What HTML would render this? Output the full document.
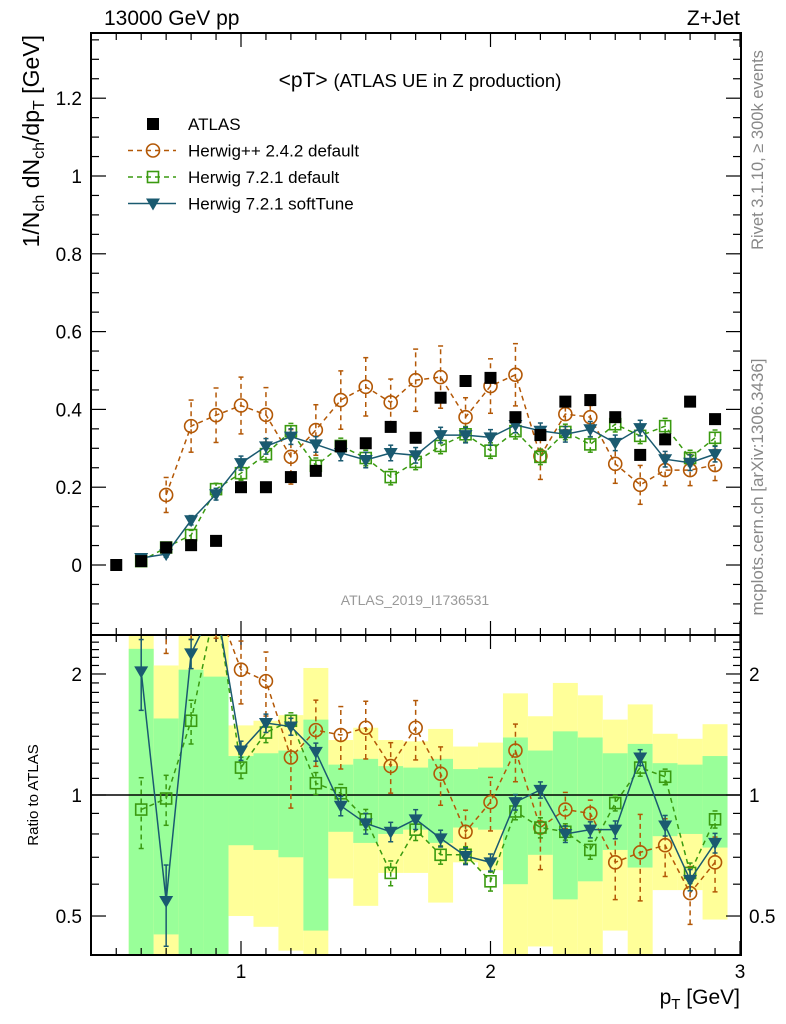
<!DOCTYPE html>
<html><head><meta charset="utf-8"><style>
html,body{margin:0;padding:0;background:#fff;}
svg{display:block;font-family:"Liberation Sans",Arial,sans-serif;}
</style></head><body>
<svg id="chart" width="786" height="1024" viewBox="0 0 786 1024" xmlns="http://www.w3.org/2000/svg"></svg>
<script>
const pT = [0.5,0.6,0.7,0.8,0.9,1.0,1.1,1.2,1.3,1.4,1.5,1.6,1.7,1.8,1.9,2.0,2.1,2.2,2.3,2.4,2.5,2.6,2.7,2.8,2.9];
const atlasVals = [0.0,0.01,0.045,0.051,0.062,0.2,0.2,0.226,0.242,0.305,0.313,0.355,0.327,0.43,0.473,0.481,0.38,0.334,0.42,0.424,0.38,0.283,0.323,0.42,0.375];
const hppPT = [0.7,0.8,0.9,1.0,1.1,1.2,1.3,1.4,1.5,1.6,1.7,1.8,1.9,2.0,2.1,2.2,2.3,2.4,2.5,2.6,2.7,2.8,2.9];
const hppVals = [0.18,0.357,0.385,0.41,0.386,0.278,0.347,0.424,0.458,0.418,0.475,0.483,0.38,0.46,0.489,0.28,0.388,0.38,0.26,0.206,0.244,0.244,0.257];
const hppErr = [0.045,0.067,0.07,0.073,0.07,0.07,0.065,0.075,0.075,0.06,0.08,0.08,0.05,0.07,0.08,0.06,0.04,0.03,0.05,0.05,0.04,0.04,0.04];
const h7PT = [0.6,0.7,0.8,0.9,1.0,1.1,1.2,1.3,1.4,1.5,1.6,1.7,1.8,1.9,2.0,2.1,2.2,2.3,2.4,2.5,2.6,2.7,2.8,2.9];
const h7Vals = [0.01,0.045,0.077,0.195,0.236,0.285,0.344,0.255,0.306,0.275,0.226,0.265,0.306,0.336,0.294,0.344,0.278,0.342,0.31,0.362,0.332,0.357,0.275,0.327];
const h7Err = [0.005,0.008,0.012,0.015,0.018,0.02,0.02,0.02,0.02,0.02,0.02,0.02,0.02,0.02,0.02,0.02,0.02,0.02,0.02,0.02,0.02,0.02,0.02,0.02];
const softVals = [0.018,0.028,0.115,0.182,0.262,0.305,0.33,0.31,0.288,0.27,0.288,0.282,0.334,0.334,0.328,0.36,0.345,0.336,0.349,0.314,0.352,0.272,0.263,0.285];
const softErr = [0.005,0.008,0.012,0.015,0.018,0.02,0.02,0.02,0.02,0.02,0.02,0.02,0.02,0.02,0.02,0.02,0.02,0.02,0.02,0.02,0.02,0.02,0.02,0.02];
// ratio panel
const hppRatio = [3,3,3,2.05,1.92,1.24,1.45,1.41,1.47,1.18,1.47,1.13,0.81,0.96,1.29,0.83,0.92,0.9,0.68,0.72,0.75,0.57,0.68];
const h7Ratio = [0.92,0.98,1.53,3,1.17,1.43,1.53,1.07,1.01,0.87,0.64,0.82,0.71,0.71,0.61,0.91,0.83,0.81,0.73,0.955,1.17,1.11,0.64,0.87];
const softRatio = [2.03,0.545,2.25,3,1.29,1.51,1.48,1.28,0.94,0.85,0.81,0.87,0.78,0.705,0.68,0.96,1.03,0.8,0.82,0.82,1.24,0.84,0.615,0.76];
const bandPT = [0.6,0.7,0.8,0.9,1.0,1.1,1.2,1.3,1.4,1.5,1.6,1.7,1.8,1.9,2.0,2.1,2.2,2.3,2.4,2.5,2.6,2.7,2.8,2.9];
const greenHi = [2.31,1.55,2.05,1.97,1.25,1.27,1.29,1.54,1.19,1.23,1.18,1.17,1.23,1.16,1.17,1.39,1.29,1.44,1.39,1.27,1.34,1.2,1.19,1.25];
const greenLo = [0.3,0.45,0.3,0.3,0.75,0.73,0.7,0.46,0.81,0.76,0.8,0.82,0.76,0.83,0.82,0.6,0.71,0.55,0.61,0.73,0.66,0.79,0.8,0.74];
const yellowHi = [3,2.1,3,3,1.49,1.53,1.58,2.07,1.37,1.47,1.37,1.36,1.46,1.32,1.35,1.79,1.57,1.9,1.77,1.54,1.68,1.42,1.38,1.5];
const yellowLo = [0.3,0.3,0.3,0.3,0.5,0.47,0.41,0.3,0.62,0.53,0.64,0.64,0.54,0.68,0.65,0.3,0.42,0.3,0.3,0.46,0.3,0.58,0.58,0.49];
const xTicks = [1,2,3];
const yTicks = [0,0.2,0.4,0.6,0.8,1,1.2];
const rTicks = [0.5,1,2];

const NS="http://www.w3.org/2000/svg";
const svg=document.getElementById('chart');
const L=91,R=741,T=33,MB=635,RB=955;
const X=p=>241+249.5*(p-1);
const Y=v=>565-389*v;
const RY=r=>795-402*Math.log10(r);
function el(tag,attrs,parent){const e=document.createElementNS(NS,tag);for(const k in attrs)e.setAttribute(k,attrs[k]);(parent||svg).appendChild(e);return e;}
function txt(s,attrs,parent){const e=el('text',attrs,parent);e.textContent=s;return e;}

const defs=el('defs',{});
const c1=el('clipPath',{id:'cm'},defs);el('rect',{x:L,y:T,width:R-L,height:MB-T},c1);
const c2=el('clipPath',{id:'cr'},defs);el('rect',{x:L,y:MB,width:R-L,height:RB-MB},c2);

const gBands=el('g',{'clip-path':'url(#cr)'});


bandPT.forEach((p,i)=>{
  const x0=X(p-0.05),x1=X(p+0.05);
  const y=el('rect',{x:x0,y:RY(yellowHi[i]),width:x1-x0,height:RY(yellowLo[i])-RY(yellowHi[i]),fill:'#ffff99'},gBands);
  
  
  const g=el('rect',{x:x0,y:RY(greenHi[i]),width:x1-x0,height:RY(greenLo[i])-RY(greenHi[i]),fill:'#99ff99'},gBands);
  
  
});
el('line',{x1:L,x2:R,y1:RY(1),y2:RY(1),stroke:'#000','stroke-width':1.5});

const f1=el('rect',{x:L,y:T,width:R-L,height:MB-T,fill:'none',stroke:'#000','stroke-width':2});


const f2=el('rect',{x:L,y:MB,width:R-L,height:RB-MB,fill:'none',stroke:'#000','stroke-width':2});



for(let k=4;k<=30;k++){const p=k/10;const x=X(p);if(x<=L||x>=R)continue;const maj=(k%10===0);const len=maj?14:7;
  [[T,1],[MB,-1],[MB,1],[RB,-1]].forEach(([y0,d])=>el('line',{x1:x,x2:x,y1:y0,y2:y0+d*len,stroke:'#000','stroke-width':1.2}));}
xTicks.forEach(v=>{const t=txt(String(v),{x:X(v),y:978,'font-size':19,'text-anchor':'middle'});
  
  });
for(let k=-3;k<=27;k++){const v=k*0.05;const y=Y(v);if(y<=T||y>=MB)continue;const maj=(k%4===0);const len=maj?15:8;
  el('line',{x1:L,x2:L+len,y1:y,y2:y,stroke:'#000','stroke-width':1.2});el('line',{x1:R,x2:R-len,y1:y,y2:y,stroke:'#000','stroke-width':1.2});}
yTicks.forEach(v=>{const t=txt(String(v),{x:82,y:Y(v)+7,'font-size':19,'text-anchor':'end'});
  
  });
[0.4,0.5,0.6,0.7,0.8,0.9,1,1.1,1.2,1.3,1.4,1.5,1.6,1.7,1.8,1.9,2,2.1,2.2,2.3,2.4].forEach(v=>{const y=RY(v);if(y<=MB||y>=RB)return;const maj=rTicks.includes(v);const len=maj?15:8;
  el('line',{x1:L,x2:L+len,y1:y,y2:y,stroke:'#000','stroke-width':1.2});el('line',{x1:R,x2:R-len,y1:y,y2:y,stroke:'#000','stroke-width':1.2});});
rTicks.forEach(v=>{const a=txt(String(v),{x:82,y:RY(v)+7,'font-size':19,'text-anchor':'end'});
  
  
  const b=txt(String(v),{x:749,y:RY(v)+7,'font-size':19,'text-anchor':'start'});
  
  });

function marker(kind,x,y,color,g){
  if(kind==='sq') return el('rect',{x:x-6,y:y-6,width:12,height:12,fill:'#000'},g);
  if(kind==='osq') return el('rect',{x:x-5.5,y:y-5.5,width:11,height:11,fill:'none',stroke:color,'stroke-width':1.6},g);
  if(kind==='circ') return el('circle',{cx:x,cy:y,r:6.5,fill:'none',stroke:color,'stroke-width':1.6},g);
  if(kind==='tri') return el('path',{d:`M${x-7},${y-5} L${x+7},${y-5} L${x},${y+7} Z`,fill:color},g);
}
function series(name,xs,vals,errs,yf,color,dash,kind,clip,relErr){
  const g=el('g',{'clip-path':clip});
  
  
  const pts=xs.map((p,i)=>[X(p),yf(vals[i])]);
  el('polyline',{points:pts.map(q=>q.join(',')).join(' '),fill:'none',stroke:color,'stroke-width':1.5,'stroke-dasharray':dash||'none'},g);
  xs.forEach((p,i)=>{
    if(errs){let lo,hi;
      if(relErr){const f=Math.min(errs[i],0.5);lo=yf(vals[i]*(1-f));hi=yf(vals[i]*(1+f));}
      else{lo=yf(vals[i]-errs[i]);hi=yf(vals[i]+errs[i]);}
      const x=X(p);
      el('line',{x1:x,x2:x,y1:lo,y2:hi,stroke:color,'stroke-width':1.5,'stroke-dasharray':dash||'none'},g);
      el('line',{x1:x-2.5,x2:x+2.5,y1:lo,y2:lo,stroke:color,'stroke-width':1.5},g);
      el('line',{x1:x-2.5,x2:x+2.5,y1:hi,y2:hi,stroke:color,'stroke-width':1.5},g);}
    const m=marker(kind,X(p),yf(vals[i]),color,g);
    
    
  });
}
const ORG='#b35806',GRN='#3a9a10',BLU='#1a5a70';
const rel=(e,v)=>e.map((x,i)=>x/Math.max(v[i],0.02));
series('herwigpp-series',hppPT,hppVals,hppErr,Y,ORG,'5,4','circ','url(#cm)');
series('herwig7-default-series',h7PT,h7Vals,h7Err,Y,GRN,'5,4','osq','url(#cm)');
series('herwig7-softtune-series',h7PT,softVals,softErr,Y,BLU,null,'tri','url(#cm)');
const ga=el('g',{'clip-path':'url(#cm)'});


pT.forEach((p,i)=>{const m=marker('sq',X(p),Y(atlasVals[i]),'#000',ga);
  
  });
series('herwigpp-ratio',hppPT,hppRatio,rel(hppErr,hppVals),RY,ORG,'5,4','circ','url(#cr)',true);
series('herwig7-default-ratio',h7PT,h7Ratio,rel(h7Err,h7Vals).map(x=>x*0.8),RY,GRN,'5,4','osq','url(#cr)',true);
series('herwig7-softtune-ratio',h7PT,softRatio,rel(softErr,softVals).map(x=>x*0.8),RY,BLU,null,'tri','url(#cr)',true);

function label(s,name,attrs){const t=txt(s,attrs);return t;}
label('13000 GeV pp','energy-label',{x:104,y:25,'font-size':21});
label('Z+Jet','process-label',{x:740,y:25,'font-size':21,'text-anchor':'end'});
const tt=label('','plot-title',{x:420,y:87,'font-size':21,'text-anchor':'middle'});
tt.innerHTML='&lt;pT&gt; <tspan font-size="18.5">(ATLAS UE in Z production)</tspan>';
label('ATLAS_2019_I1736531','analysis-id',{x:415,y:605,'font-size':14,fill:'#999','text-anchor':'middle'});
label('Rivet 3.1.10, \u2265 300k events','rivet-label',{x:0,y:0,'font-size':16.5,fill:'#888','text-anchor':'middle',transform:'translate(763,150) rotate(-90)'});
label('mcplots.cern.ch [arXiv:1306.3436]','mcplots-label',{x:0,y:0,'font-size':17,fill:'#888','text-anchor':'middle',transform:'translate(763,487) rotate(-90)'});
const yt=label('','y-axis-title',{x:0,y:0,'font-size':23,'text-anchor':'end',transform:'translate(39,35) rotate(-90)'});
yt.innerHTML='1/N<tspan font-size="16" dy="5">ch</tspan><tspan dy="-5"> dN</tspan><tspan font-size="16" dy="5">ch</tspan><tspan dy="-5">/dp</tspan><tspan font-size="16" dy="5">T</tspan><tspan dy="-5"> [GeV]</tspan>';
label('Ratio to ATLAS','ratio-axis-title',{x:0,y:0,'font-size':15,'text-anchor':'middle',transform:'translate(38,795) rotate(-90)'});
const xt=label('','x-axis-title',{x:740,y:1004,'font-size':21,'text-anchor':'end'});
xt.innerHTML='p<tspan font-size="15" dy="5">T</tspan><tspan dy="-5"> [GeV]</tspan>';

const lg=el('g',{});


const legItems=[['ATLAS','sq','#000',null,false],['Herwig++ 2.4.2 default','circ',ORG,'5,4',true],['Herwig 7.2.1 default','osq',GRN,'5,4',true],['Herwig 7.2.1 softTune','tri',BLU,null,true]];
legItems.forEach((it,i)=>{const y=124+26.5*i;const e=el('g',{},lg);
  
  
  if(it[4]) el('line',{x1:128,x2:176,y1:y,y2:y,stroke:it[2],'stroke-width':1.5,'stroke-dasharray':it[3]||'none'},e);
  marker(it[1],153,y,it[2],e);
  txt(it[0],{x:188,y:y+6,'font-size':17},e);});
</script>
</body></html>
